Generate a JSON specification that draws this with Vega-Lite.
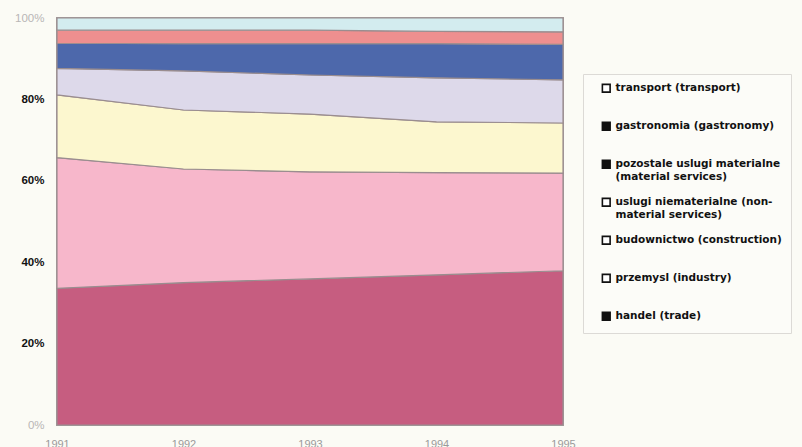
{
  "$schema": "https://vega.github.io/schema/vega-lite/v6.json",
  "width": 506,
  "height": 407,
  "autosize": {"type": "none"},
  "padding": {"left": 57, "top": 18, "right": 239, "bottom": 22},
  "background": "#fbfbf5",
  "config": {
    "view": {"stroke": "#a59c9c", "strokeWidth": 2},
    "font": "Liberation Sans"
  },
  "data": {
    "values": [
      {"rok": 1991, "poziom": 1, "sektor": "handel (trade)", "udzial": 33.6},
      {"rok": 1991, "poziom": 2, "sektor": "przemysl (industry)", "udzial": 32.1},
      {"rok": 1991, "poziom": 3, "sektor": "budownictwo (construction)", "udzial": 15.4},
      {"rok": 1991, "poziom": 4, "sektor": "uslugi niematerialne (non-material services)", "udzial": 6.5},
      {"rok": 1991, "poziom": 5, "sektor": "pozostale uslugi materialne (material services)", "udzial": 6.2},
      {"rok": 1991, "poziom": 6, "sektor": "gastronomia (gastronomy)", "udzial": 3.2},
      {"rok": 1991, "poziom": 7, "sektor": "transport (transport)", "udzial": 3.0},
      {"rok": 1992, "poziom": 1, "sektor": "handel (trade)", "udzial": 35.0},
      {"rok": 1992, "poziom": 2, "sektor": "przemysl (industry)", "udzial": 27.9},
      {"rok": 1992, "poziom": 3, "sektor": "budownictwo (construction)", "udzial": 14.5},
      {"rok": 1992, "poziom": 4, "sektor": "uslugi niematerialne (non-material services)", "udzial": 9.6},
      {"rok": 1992, "poziom": 5, "sektor": "pozostale uslugi materialne (material services)", "udzial": 6.7},
      {"rok": 1992, "poziom": 6, "sektor": "gastronomia (gastronomy)", "udzial": 3.3},
      {"rok": 1992, "poziom": 7, "sektor": "transport (transport)", "udzial": 3.0},
      {"rok": 1993, "poziom": 1, "sektor": "handel (trade)", "udzial": 35.9},
      {"rok": 1993, "poziom": 2, "sektor": "przemysl (industry)", "udzial": 26.3},
      {"rok": 1993, "poziom": 3, "sektor": "budownictwo (construction)", "udzial": 14.2},
      {"rok": 1993, "poziom": 4, "sektor": "uslugi niematerialne (non-material services)", "udzial": 9.6},
      {"rok": 1993, "poziom": 5, "sektor": "pozostale uslugi materialne (material services)", "udzial": 7.7},
      {"rok": 1993, "poziom": 6, "sektor": "gastronomia (gastronomy)", "udzial": 3.3},
      {"rok": 1993, "poziom": 7, "sektor": "transport (transport)", "udzial": 3.0},
      {"rok": 1994, "poziom": 1, "sektor": "handel (trade)", "udzial": 36.9},
      {"rok": 1994, "poziom": 2, "sektor": "przemysl (industry)", "udzial": 25.1},
      {"rok": 1994, "poziom": 3, "sektor": "budownictwo (construction)", "udzial": 12.5},
      {"rok": 1994, "poziom": 4, "sektor": "uslugi niematerialne (non-material services)", "udzial": 10.8},
      {"rok": 1994, "poziom": 5, "sektor": "pozostale uslugi materialne (material services)", "udzial": 8.4},
      {"rok": 1994, "poziom": 6, "sektor": "gastronomia (gastronomy)", "udzial": 3.0},
      {"rok": 1994, "poziom": 7, "sektor": "transport (transport)", "udzial": 3.3},
      {"rok": 1995, "poziom": 1, "sektor": "handel (trade)", "udzial": 37.9},
      {"rok": 1995, "poziom": 2, "sektor": "przemysl (industry)", "udzial": 24.0},
      {"rok": 1995, "poziom": 3, "sektor": "budownictwo (construction)", "udzial": 12.3},
      {"rok": 1995, "poziom": 4, "sektor": "uslugi niematerialne (non-material services)", "udzial": 10.6},
      {"rok": 1995, "poziom": 5, "sektor": "pozostale uslugi materialne (material services)", "udzial": 8.7},
      {"rok": 1995, "poziom": 6, "sektor": "gastronomia (gastronomy)", "udzial": 3.1},
      {"rok": 1995, "poziom": 7, "sektor": "transport (transport)", "udzial": 3.4}
    ]
  },
  "encoding": {
    "x": {
      "field": "rok",
      "type": "quantitative",
      "scale": {"domain": [1991, 1995], "nice": false, "zero": false},
      "axis": {
        "values": [1991, 1992, 1993, 1994, 1995],
        "format": "d",
        "title": null,
        "grid": false,
        "domain": false,
        "ticks": false,
        "labelPadding": 13,
        "labelFontSize": 11,
        "labelColor": "#9a9a9a",
        "labelFlush": false
      }
    },
    "y": {
      "field": "udzial",
      "type": "quantitative",
      "stack": "normalize",
      "scale": {"domain": [0, 1], "nice": false},
      "axis": {
        "values": [0, 0.2, 0.4, 0.6, 0.8, 1],
        "format": ".0%",
        "title": null,
        "grid": false,
        "domain": false,
        "ticks": false,
        "labelPadding": 13,
        "labelFontSize": 11.5,
        "labelFontWeight": {"expr": "datum.value == 0 || datum.value == 1 ? 'normal' : 'bold'"},
        "labelColor": {"expr": "datum.value == 0 || datum.value == 1 ? '#b9b6b6' : '#111111'"}
      }
    },
    "order": {"field": "poziom", "type": "quantitative", "sort": "ascending"}
  },
  "layer": [
    {
      "mark": {"type": "area", "stroke": "#9a8d8f", "strokeWidth": 1.2},
      "encoding": {
        "color": {
          "field": "sektor",
          "type": "nominal",
          "scale": {
            "domain": [
              "transport (transport)",
              "gastronomia (gastronomy)",
              "pozostale uslugi materialne (material services)",
              "uslugi niematerialne (non-material services)",
              "budownictwo (construction)",
              "przemysl (industry)",
              "handel (trade)"
            ],
            "range": ["#d3ecef", "#ee8f8f", "#4d68ab", "#ddd9ea", "#fcf7cf", "#f7b7cb", "#c65d80"]
          },
          "legend": null
        }
      }
    },
    {
      "mark": {"type": "point", "filled": true, "size": 0},
      "encoding": {
        "fill": {
          "field": "sektor",
          "type": "nominal",
          "scale": {
            "domain": [
              "transport (transport)",
              "gastronomia (gastronomy)",
              "pozostale uslugi materialne (material services)",
              "uslugi niematerialne (non-material services)",
              "budownictwo (construction)",
              "przemysl (industry)",
              "handel (trade)"
            ],
            "range": ["#ffffff", "#111111", "#111111", "#ffffff", "#ffffff", "#ffffff", "#111111"]
          },
          "legend": {
            "title": null,
            "orient": "none",
            "legendX": 526,
            "legendY": 56,
            "padding": 9,
            "symbolOffset": 9,
            "strokeColor": "#dcdad6",
            "fillColor": "#fcfcf8",
            "symbolType": "square",
            "symbolSize": 60,
            "symbolStrokeColor": "#111111",
            "symbolStrokeWidth": 1.6,
            "symbolOpacity": 1,
            "labelFont": "DejaVu Sans",
            "labelFontSize": 10.5,
            "labelFontWeight": "bold",
            "labelColor": "#111111",
            "labelLimit": 300,
            "labelOffset": 4,
            "rowPadding": 12,
            "gridAlign": "all",
            "labelExpr": "datum.label == 'pozostale uslugi materialne (material services)' ? ['pozostale uslugi materialne', '(material services)'] : datum.label == 'uslugi niematerialne (non-material services)' ? ['uslugi niematerialne (non-', 'material services)'] : datum.label"
          }
        }
      }
    }
  ],
  "resolve": {
    "scale": {"color": "independent", "fill": "independent"},
    "legend": {"color": "independent", "fill": "independent"}
  }
}
